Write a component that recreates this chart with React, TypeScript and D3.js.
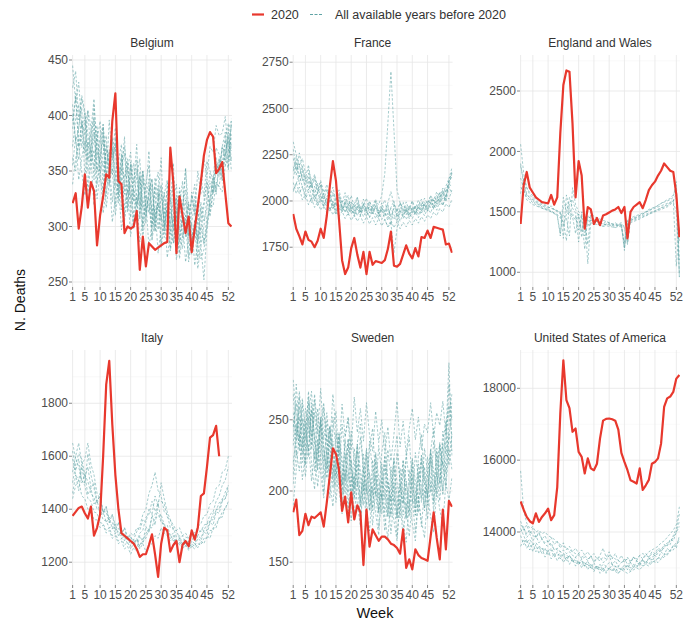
import React from "react";
import * as d3 from "d3";

// ---------- tick labels ----------
const weekTicks = [1, 5, 10, 15, 20, 25, 30, 35, 40, 45, 52];

// ---------- Belgium ----------
const belgium2020 = [321,330,298,318,347,317,340,332,283,310,327,347,344,395,420,341,338,294,300,298,300,314,261,291,264,285,282,279,281,283,285,286,371,339,276,327,310,294,309,277,298,318,340,364,378,385,381,348,352,358,330,303,300];
const belgiumPastA = [372,398,410,371,388,405,362,379,391,350,366,382,341,360,372,329,352,344,361,318,335,352,309,341,327,318,300,336,297,329,311,322,293,346,305,331,312,352,315,322,338,301,344,327,359,350,342,371,365,356,380,393,368];
const belgiumPastB = [425,440,396,418,404,371,386,415,362,380,392,356,368,347,380,336,359,372,349,326,341,360,318,349,309,332,343,301,322,335,296,317,326,285,307,319,341,290,303,328,312,284,322,305,316,339,330,357,349,372,385,353,397];
const belgiumPastC = [355,381,342,362,377,331,357,369,325,348,359,317,339,352,310,333,344,305,326,338,298,320,331,290,312,326,287,309,321,281,302,315,278,297,310,271,292,305,268,288,300,262,283,252,296,320,318,340,336,331,355,362,375];
const belgiumPastD = [395,416,372,381,396,358,373,385,349,362,378,340,396,362,375,340,352,366,330,345,357,320,337,350,313,330,343,306,323,338,300,318,333,296,313,328,290,309,322,287,305,317,283,300,326,348,330,356,349,372,366,385,360];
const belgiumPastE = [338,362,373,349,328,340,362,319,341,354,312,333,346,304,326,340,297,319,333,291,313,327,286,308,322,281,302,317,276,298,313,272,294,309,270,291,306,268,288,303,265,286,300,284,309,312,331,338,336,358,355,381,350];
const belgiumPastF = [410,377,388,415,401,360,384,398,351,375,389,343,367,381,335,359,374,329,352,367,322,346,361,316,340,355,311,335,349,306,329,342,302,324,338,297,319,333,292,314,327,287,309,322,343,318,339,362,345,371,360,388,395];
const belgiumPastG = [388,420,372,395,366,404,390,342,377,395,331,370,352,366,389,321,347,381,313,358,339,374,306,350,331,368,300,344,325,362,296,339,320,357,293,335,316,353,291,331,311,350,329,362,344,372,367,391,382,384,399,367,392];
const belgiumPastH = [362,350,391,407,343,376,358,395,338,364,383,327,355,371,318,345,363,309,339,356,302,331,349,296,325,343,290,320,337,284,315,332,280,311,328,276,308,324,273,304,321,270,298,318,339,309,332,350,361,342,369,377,359];
const belgiumPastI = [401,377,360,392,384,350,369,352,386,344,331,374,357,322,348,363,315,341,357,308,334,318,345,300,328,312,338,295,321,305,331,289,316,299,325,286,311,294,320,281,306,290,317,285,300,324,345,329,356,341,367,351,383];
const belgiumPastJ = [445,412,430,389,402,383,367,409,371,356,392,348,337,379,346,326,366,337,317,355,328,309,345,320,303,337,313,296,330,306,290,322,299,285,316,294,280,310,288,275,305,283,271,279,301,325,343,331,361,347,378,360,392];
const belgiumTicks = [250, 300, 350, 400, 450];

// ---------- France ----------
const france2020 = [1930,1850,1810,1765,1835,1790,1780,1750,1785,1850,1800,1920,2080,2215,2110,1900,1680,1605,1640,1745,1800,1710,1640,1725,1605,1725,1655,1675,1670,1665,1680,1740,1835,1650,1645,1660,1710,1760,1715,1690,1745,1700,1805,1800,1840,1800,1860,1855,1850,1845,1765,1770,1720];
const francePastA = [2230,2165,2190,2120,2085,2130,2060,2045,2095,2010,2040,1985,2025,1990,1955,2010,1965,1940,1985,1950,1930,1975,1925,1960,1945,1915,1965,1930,1905,1955,1940,1910,1960,1925,1890,1945,1920,1955,1905,1940,1970,1925,1960,1985,1945,1990,2010,1970,2020,2045,2000,2075,2040];
const francePastB = [2120,2210,2090,2160,2050,2110,2010,2080,1990,2040,1970,2020,1950,2000,1930,1985,1945,1995,1935,1980,1925,1970,1920,1965,1915,1960,1935,1975,1910,1960,1940,1990,2050,1980,1945,1990,1930,1975,1925,1970,1935,1985,1945,1995,1960,2010,1975,2030,1995,2060,2020,2100,2160];
const francePastC = [2060,2100,2040,2080,2010,2050,1990,2030,1975,2010,1960,1995,1945,1985,1930,1970,1940,1980,1925,1965,1915,1955,1940,1985,1950,1995,1960,2000,1980,2030,2150,2420,2700,2380,2060,1990,1960,1940,1975,1930,1965,1945,1980,1955,1990,1965,2005,1985,2025,2010,2060,2090,2080];
const francePastD = [2280,2170,2200,2110,2140,2060,2090,2020,2050,1990,2030,1975,2010,1960,1995,1950,1985,1940,1970,1930,1965,1920,1960,1915,1950,1910,1945,1905,1940,1900,1935,1895,1930,1900,1935,1890,1930,1900,1935,1905,1940,1910,1950,1920,1960,1935,1980,1950,2000,1975,2030,2010,2060];
const francePastE = [2160,2240,2130,2190,2100,2150,2070,2120,2040,2090,2010,2060,1990,2040,1970,2020,1960,2000,1950,1995,1945,1990,1940,1985,1935,1980,1930,1975,1925,1970,1920,1965,1915,1960,1910,1955,1905,1960,1915,1965,1925,1970,1935,1980,1945,1990,1960,2010,1980,2040,2000,2120,2180];
const francePastF = [2320,2250,2190,2230,2150,2170,2110,2130,2080,2100,2050,2065,2030,2045,2010,2025,1995,2010,1980,1995,1970,1985,1960,1975,1950,1965,1945,1960,1940,1955,1900,1860,1880,1720,1850,1940,1955,1945,1960,1950,1970,1960,1985,1975,2000,1990,2020,2010,2045,2040,2080,2120,2150];
const francePastG = [2050,2095,2140,2075,2030,2065,2110,2000,2045,2085,1980,2020,2060,1960,2005,2040,1950,1990,2030,1945,1985,2020,1940,1980,2015,1935,1975,2010,1930,1970,2005,1925,1965,2000,1920,1960,1995,1925,1965,2000,1930,1970,2010,1940,1985,2025,1955,2000,2045,1975,2030,2080,2150];
const francePastH = [2185,2140,2260,2175,2120,2195,2080,2145,2055,2110,2035,2090,2020,2075,2000,2060,1985,2045,1975,2030,1965,2020,1960,2010,1955,2000,1950,1995,1945,1990,1940,1985,1870,1985,1940,1990,1945,1995,1950,2000,1960,2005,1970,2015,1985,2030,2000,2050,2020,2070,2045,2110,2130];
const francePastI = [2100,2040,2075,2005,2035,1980,2015,1965,1995,1950,1980,1935,1965,1925,1955,1915,1945,1905,1935,1895,1925,1890,1920,1880,1915,1875,1910,1870,1905,1865,1900,1860,1895,1855,1890,1850,1885,1860,1895,1870,1905,1880,1915,1890,1925,1905,1940,1920,1960,1940,1985,1965,2010];
const franceTicks = [1750, 2000, 2250, 2500, 2750];

// ---------- England and Wales ----------
const england2020 = [1400,1720,1830,1700,1660,1620,1600,1580,1575,1570,1640,1560,1620,2150,2550,2670,2660,2230,1620,1920,1800,1360,1540,1520,1400,1450,1390,1470,1480,1495,1510,1520,1540,1490,1540,1280,1500,1540,1560,1580,1530,1600,1680,1720,1750,1800,1840,1900,1870,1840,1830,1640,1290];
const englandPastA = [1880,1760,1650,1610,1590,1570,1560,1540,1530,1520,1510,1490,1470,1300,1620,1500,1470,1460,1320,1480,1450,1190,1470,1440,1430,1420,1410,1400,1420,1410,1400,1390,1400,1410,1210,1430,1440,1450,1460,1470,1480,1500,1510,1520,1530,1540,1550,1560,1570,1580,1600,1050,1380];
const englandPastB = [2060,1820,1700,1660,1630,1600,1580,1570,1560,1540,1530,1520,1500,1490,1280,1640,1520,1480,1460,1350,1470,1440,1230,1500,1460,1450,1440,1430,1420,1410,1400,1410,1390,1400,1380,1240,1450,1460,1470,1480,1490,1500,1520,1530,1540,1550,1570,1580,1590,1600,1620,1750,950];
const englandPastC = [1700,1680,1600,1580,1560,1550,1540,1530,1520,1510,1500,1490,1480,1450,1420,1260,1580,1600,1520,1460,1340,1480,1070,1430,1420,1400,1390,1380,1400,1390,1380,1370,1390,1380,1200,1410,1420,1430,1440,1450,1460,1470,1480,1490,1500,1510,1520,1530,1540,1560,1580,1500,1000];
const englandPastD = [1900,1720,1640,1620,1600,1580,1560,1550,1540,1530,1550,1520,1510,1480,1470,1450,1300,1700,1560,1500,1480,1300,1460,1450,1440,1420,1410,1400,1390,1400,1390,1400,1380,1390,1370,1230,1430,1440,1450,1460,1470,1480,1490,1500,1510,1520,1530,1540,1550,1570,1590,1650,1100];
const englandPastE = [1780,1690,1620,1600,1575,1560,1545,1530,1520,1515,1500,1485,1470,1320,1540,1560,1490,1470,1430,1480,1290,1450,1430,1410,1400,1395,1390,1380,1385,1380,1375,1370,1380,1375,1250,1400,1410,1420,1430,1440,1455,1465,1480,1495,1505,1520,1535,1545,1560,1575,1590,1620,1250];
const englandPastF = [1650,1780,1700,1640,1610,1590,1570,1560,1550,1540,1530,1520,1510,1500,1380,1480,1620,1530,1490,1250,1500,1460,1380,1440,1430,1420,1410,1400,1395,1400,1390,1385,1390,1395,1180,1420,1430,1440,1455,1470,1485,1495,1510,1525,1540,1555,1570,1585,1600,1610,1640,1700,960];
const englandTicks = [1000, 1500, 2000, 2500];

// ---------- Italy ----------
const italy2020 = [1375,1390,1405,1410,1385,1365,1410,1300,1330,1380,1600,1870,1960,1720,1530,1400,1310,1300,1290,1280,1270,1250,1220,1230,1230,1265,1305,1230,1145,1270,1330,1320,1240,1265,1280,1200,1265,1280,1260,1320,1285,1330,1450,1460,1560,1670,1680,1715,1600];
const italyPastA = [1650,1590,1560,1510,1490,1440,1430,1390,1385,1350,1345,1320,1330,1300,1310,1280,1290,1265,1275,1250,1270,1275,1310,1320,1370,1380,1430,1395,1385,1350,1345,1310,1305,1280,1285,1265,1270,1260,1285,1280,1305,1300,1325,1320,1345,1350,1385,1395,1425,1430,1465,1490];
const italyPastB = [1500,1570,1610,1590,1530,1505,1460,1445,1400,1395,1360,1355,1330,1335,1310,1315,1290,1295,1270,1280,1285,1315,1335,1380,1400,1460,1490,1540,1470,1450,1390,1380,1330,1330,1295,1300,1270,1295,1290,1315,1310,1335,1345,1375,1380,1420,1430,1480,1490,1540,1550,1600];
const italyPastC = [1440,1490,1510,1570,1590,1650,1570,1530,1460,1440,1390,1390,1350,1350,1320,1330,1300,1310,1280,1295,1270,1285,1260,1290,1290,1330,1330,1370,1370,1380,1340,1340,1300,1310,1280,1290,1265,1280,1255,1280,1270,1300,1290,1320,1320,1360,1360,1400,1400,1440,1440,1490];
const italyPastD = [1590,1530,1510,1450,1440,1400,1400,1360,1360,1330,1340,1310,1320,1290,1300,1270,1280,1250,1260,1230,1255,1240,1270,1270,1310,1320,1370,1380,1430,1430,1420,1370,1360,1320,1320,1290,1300,1270,1280,1255,1270,1255,1280,1270,1300,1290,1330,1330,1370,1370,1410,1420];
const italyPastE = [1620,1545,1590,1500,1530,1455,1480,1420,1435,1380,1395,1350,1370,1325,1345,1300,1320,1280,1300,1260,1285,1250,1300,1275,1335,1310,1380,1340,1420,1360,1330,1310,1290,1300,1270,1285,1255,1275,1250,1270,1260,1290,1280,1315,1305,1350,1340,1390,1385,1430,1440,1470];
const italyPastF = [1460,1530,1470,1560,1495,1610,1530,1480,1420,1460,1380,1410,1350,1380,1320,1350,1300,1330,1290,1310,1300,1330,1320,1360,1350,1400,1380,1450,1410,1500,1440,1390,1360,1340,1320,1330,1300,1310,1290,1300,1300,1320,1315,1340,1345,1380,1390,1430,1450,1490,1510,1560];
const italyPastG = [1540,1600,1650,1570,1520,1560,1480,1500,1430,1450,1390,1410,1360,1380,1340,1350,1310,1330,1290,1300,1270,1290,1250,1270,1240,1260,1270,1300,1290,1330,1310,1300,1280,1290,1265,1275,1250,1265,1245,1260,1250,1270,1265,1290,1290,1320,1320,1350,1360,1390,1400,1430];
const italyTicks = [1200, 1400, 1600, 1800];

// ---------- Sweden ----------
const sweden2020 = [185,194,169,172,184,176,182,181,183,185,175,192,211,230,226,215,186,196,178,199,180,190,185,148,187,161,173,169,165,168,168,166,163,162,160,156,173,146,152,145,159,155,153,152,151,168,185,167,152,187,159,193,189];
const swedenPastA = [245,262,228,251,236,270,240,222,258,234,215,249,227,208,241,219,200,236,214,195,230,209,190,226,205,187,222,202,185,219,200,182,217,198,181,216,197,180,215,199,183,219,203,188,224,209,193,230,215,200,237,290,225];
const swedenPastB = [220,238,259,231,249,224,262,238,216,252,229,209,244,222,203,238,217,198,233,212,194,228,208,190,225,204,186,221,201,184,218,199,182,216,197,181,215,198,182,217,200,185,221,205,190,226,210,196,232,218,245,260,238];
const swedenPastC = [268,235,252,220,244,266,232,255,226,248,221,240,214,235,209,230,204,226,199,222,196,219,193,216,190,213,188,211,186,209,185,207,183,206,182,205,183,207,185,210,188,213,192,217,196,222,201,227,206,233,212,240,228];
const swedenPastD = [205,228,214,237,210,232,207,228,203,225,199,222,195,219,192,216,189,213,186,210,183,207,180,204,178,202,176,200,174,198,172,196,170,195,168,193,167,192,168,194,171,197,175,201,180,206,186,213,193,221,202,230,215];
const swedenPastE = [255,240,270,246,230,262,238,268,244,225,259,236,218,252,230,212,247,225,207,242,221,203,238,217,200,235,214,197,232,211,194,229,209,192,227,207,191,226,207,192,227,209,195,230,213,199,235,219,205,242,226,275,250];
const swedenPastF = [232,275,241,226,258,247,229,264,240,272,236,255,231,268,243,226,261,238,252,229,266,241,258,235,262,239,228,256,234,250,226,245,221,240,263,231,249,226,244,258,236,252,229,247,241,262,238,255,246,263,240,255,268];
const swedenPastG = [250,225,266,239,218,255,270,233,214,248,262,226,209,243,256,221,205,238,251,217,201,234,247,213,198,230,244,209,195,227,241,206,193,224,239,204,191,223,238,203,192,224,240,206,196,228,244,211,201,234,249,218,240];
const swedenPastH = [212,247,231,262,220,241,256,214,235,250,208,229,245,202,224,240,197,219,236,193,215,232,189,212,229,186,209,226,184,206,224,182,205,222,181,204,221,181,205,222,183,207,225,186,211,229,191,216,234,197,222,246,262];
const swedenPastI = [278,251,236,265,244,228,257,237,221,251,231,215,246,226,211,241,222,207,237,218,203,233,214,200,230,211,197,227,209,195,225,207,193,223,206,192,222,206,192,223,207,194,225,210,197,229,214,201,233,219,206,239,254];
const swedenPastJ = [190,215,240,208,226,252,219,201,236,213,195,229,207,189,222,201,184,216,196,179,211,191,175,207,187,172,203,184,169,199,181,167,196,179,165,194,177,164,193,177,165,194,179,167,197,182,171,201,187,176,206,193,210];
const swedenTicks = [150, 200, 250];

// ---------- United States of America ----------
const usa2020 = [14850,14620,14420,14300,14240,14520,14280,14420,14520,14650,14330,14470,15250,17300,18780,17670,17450,16790,16880,16230,16090,15630,16050,15770,15720,15900,16600,17100,17150,17160,17140,17100,16850,16200,15950,15720,15440,15400,15350,15770,15170,15300,15450,15900,15950,16050,16460,17480,17720,17770,17900,18270,18370];
const usaPastA = [15700,14600,14250,14100,14150,14000,14050,13950,14000,13900,13850,13800,13700,13650,13600,13550,13500,13450,13400,13350,13300,13350,13250,13300,13200,13250,13200,13300,13250,13350,13300,13250,13200,13150,13200,13250,13200,13300,13250,13350,13400,13350,13450,13500,13550,13600,13700,13750,13850,13950,14050,14200,14700];
const usaPastB = [14200,14100,13950,14050,13900,13850,13950,13800,13700,13750,13600,13550,13500,13450,13400,13350,13300,13250,13200,13150,13100,13150,13050,13100,13000,13050,13000,13100,13050,13150,13100,13050,13000,12950,13000,13050,13000,13100,13050,13150,13200,13150,13250,13300,13350,13400,13500,13550,13650,13750,13850,14000,14300];
const usaPastC = [14100,13900,13700,13800,13650,13700,13600,13550,13500,13450,13550,13400,13350,13400,13300,13250,13350,13200,13150,13100,13200,13050,13100,13000,12950,13050,12950,13000,12900,13000,12950,12900,12850,12950,12900,12850,12900,12950,13000,12950,13050,13100,13050,13150,13200,13150,13250,13300,13400,13500,13600,13700,13800];
const usaPastD = [14000,14150,13850,13950,13750,13900,13700,13800,13650,13600,13700,13500,13550,13450,13500,13400,13450,13350,13300,13400,13250,13300,13200,13350,13150,13250,13300,13150,13200,13350,13100,13200,13050,13150,13250,13100,13150,13300,13200,13100,13250,13350,13300,13400,13350,13500,13450,13600,13700,13650,13900,14100,14500];
const usaPastE = [13900,13650,13800,13500,13700,13450,13600,13400,13550,13350,13500,13300,13450,13250,13400,13200,13350,13150,13300,13100,13250,13050,13200,13000,13150,12950,13100,12900,13050,12950,13100,12900,13050,12950,13100,12950,13150,13000,13200,13050,13250,13100,13300,13150,13350,13250,13450,13350,13550,13450,13650,13550,13900];
const usaPastF = [14300,14050,14200,13950,14100,13850,14000,13800,13900,13700,13850,13650,13750,13550,13700,13500,13600,13450,13550,13400,13500,13350,13450,13300,13400,13250,13350,13550,13300,13450,13250,13400,13200,13350,13150,13300,13150,13300,13200,13350,13250,13400,13300,13450,13400,13550,13500,13650,13600,13800,13750,14000,14150];
const usaPastG = [13600,13800,13550,13700,13450,13650,13400,13550,13300,13500,13250,13400,13200,13350,13150,13300,13100,13250,13050,13200,13000,13150,12950,13100,12900,13050,12850,13000,12850,13000,12900,13050,12850,13000,12950,13100,12900,13050,13000,13150,13050,13200,13100,13250,13150,13300,13250,13400,13350,13500,13500,13650,13750];
const usaTicks = [14000, 16000, 18000];

// ---------- panels ----------
const panelNames = ["Belgium", "France", "England and Wales", "Italy", "Sweden", "United States of America"];

const RED = "#e8382d";
const TEAL = "#5fa3a5";
const FONT = "'Liberation Sans', Arial, Helvetica, sans-serif";

type PanelSpec = {
  name: string;
  cur: number[];
  past: number[][];
  ticks: number[];
  domain: [number, number];
  col: number;
  row: number;
};

const panels: PanelSpec[] = [
  { name: panelNames[0], cur: belgium2020, past: [belgiumPastA, belgiumPastB, belgiumPastC, belgiumPastD, belgiumPastE, belgiumPastF, belgiumPastG, belgiumPastH, belgiumPastI, belgiumPastJ], ticks: belgiumTicks, domain: [245.5, 454.5], col: 0, row: 0 },
  { name: panelNames[1], cur: france2020, past: [francePastA, francePastB, francePastC, francePastD, francePastE, francePastF, francePastG, francePastH, francePastI], ticks: franceTicks, domain: [1535, 2789], col: 1, row: 0 },
  { name: panelNames[2], cur: england2020, past: [englandPastA, englandPastB, englandPastC, englandPastD, englandPastE, englandPastF], ticks: englandTicks, domain: [878, 2798], col: 2, row: 0 },
  { name: panelNames[3], cur: italy2020, past: [italyPastA, italyPastB, italyPastC, italyPastD, italyPastE, italyPastF, italyPastG], ticks: italyTicks, domain: [1114, 2001], col: 0, row: 1 },
  { name: panelNames[4], cur: sweden2020, past: [swedenPastA, swedenPastB, swedenPastC, swedenPastD, swedenPastE, swedenPastF, swedenPastG, swedenPastH, swedenPastI, swedenPastJ], ticks: swedenTicks, domain: [134, 299], col: 1, row: 1 },
  { name: panelNames[5], cur: usa2020, past: [usaPastA, usaPastB, usaPastC, usaPastD, usaPastE, usaPastF, usaPastG], ticks: usaTicks, domain: [12525, 19066], col: 2, row: 1 },
];

const colLeft = [72, 292.6, 520];
const rowTop = [55, 350];
const rowHeight = [232, 235];
const PW = 160;

function Panel({ p, idx }: { p: PanelSpec; idx: number }) {
  const left = colLeft[p.col];
  const top = rowTop[p.row];
  const bottom = top + rowHeight[p.row];
  const x = d3.scaleLinear().domain([0.8, 53.2]).range([left, left + PW]);
  const y = d3.scaleLinear().domain(p.domain).range([bottom, top]);
  const line = d3
    .line<number>()
    .x((_, i) => x(i + 1))
    .y((d) => y(d));
  const step = p.ticks[1] - p.ticks[0];
  const minor: number[] = [];
  for (let v = p.ticks[0] - step / 2; v <= p.domain[1]; v += step) {
    if (v >= p.domain[0]) minor.push(v);
  }
  const clipId = `clip-${idx}`;
  return (
    <g>
      <defs>
        <clipPath id={clipId}>
          <rect x={left} y={top} width={PW} height={bottom - top} />
        </clipPath>
      </defs>
      {minor.map((v) => (
        <line key={"mn" + v} x1={left} x2={left + PW} y1={y(v)} y2={y(v)} stroke="#f3f3f3" strokeWidth={0.5} />
      ))}
      {p.ticks.map((v) => (
        <line key={"mj" + v} x1={left} x2={left + PW} y1={y(v)} y2={y(v)} stroke="#e6e6e6" strokeWidth={0.8} />
      ))}
      {weekTicks.map((w) => (
        <line key={"vx" + w} x1={x(w)} x2={x(w)} y1={top} y2={bottom} stroke="#e6e6e6" strokeWidth={0.8} />
      ))}
      <g clipPath={`url(#${clipId})`}>
        {p.past.map((s, i) => (
          <path key={"p" + i} d={line(s) || ""} fill="none" stroke={TEAL} strokeWidth={0.7} strokeDasharray="2.5 1.8" opacity={0.8} />
        ))}
        <path d={line(p.cur) || ""} fill="none" stroke={RED} strokeWidth={2.2} strokeLinejoin="round" />
      </g>
      {p.ticks.map((v) => (
        <g key={"yt" + v}>
          <line x1={left - 3} x2={left} y1={y(v)} y2={y(v)} stroke="#555" strokeWidth={0.7} />
          <text x={left - 4} y={y(v)} dy="0.35em" textAnchor="end" fontSize={12} fill="#4d4d4d" fontFamily={FONT}>
            {v}
          </text>
        </g>
      ))}
      {weekTicks.map((w) => (
        <g key={"xt" + w}>
          <line x1={x(w)} x2={x(w)} y1={bottom} y2={bottom + 3} stroke="#555" strokeWidth={0.7} />
          <text x={x(w)} y={bottom + 5} dy="0.75em" textAnchor="middle" fontSize={12} fill="#4d4d4d" fontFamily={FONT}>
            {w}
          </text>
        </g>
      ))}
      <text x={left + PW / 2} y={top - 8} textAnchor="middle" fontSize={12} fill="#333" fontFamily={FONT}>
        {p.name}
      </text>
    </g>
  );
}

export default function App() {
  return (
    <svg
      width={683}
      height={624}
      viewBox="0 0 683 624"
      style={{ position: "absolute", left: 0, top: 0, background: "#fff" }}
    >
      <rect x={0} y={0} width={683} height={624} fill="#fff" />
      <line x1={252} x2={264} y1={14.5} y2={14.5} stroke={RED} strokeWidth={2.2} />
      <text x={271} y={19} fontSize={12.5} fill="#333" fontFamily={FONT}>2020</text>
      <line x1={310} x2={323} y1={14.5} y2={14.5} stroke={TEAL} strokeWidth={1} strokeDasharray="3 1.5" />
      <text x={335} y={19} fontSize={12.5} fill="#333" fontFamily={FONT}>All available years before 2020</text>
      {panels.map((p, i) => (
        <Panel key={p.name} p={p} idx={i} />
      ))}
      <text transform="translate(25,300) rotate(-90)" textAnchor="middle" fontSize={14} fill="#111" fontFamily={FONT}>
        N. Deaths
      </text>
      <text x={375} y={618} textAnchor="middle" fontSize={14.5} fill="#111" fontFamily={FONT}>
        Week
      </text>
    </svg>
  );
}
